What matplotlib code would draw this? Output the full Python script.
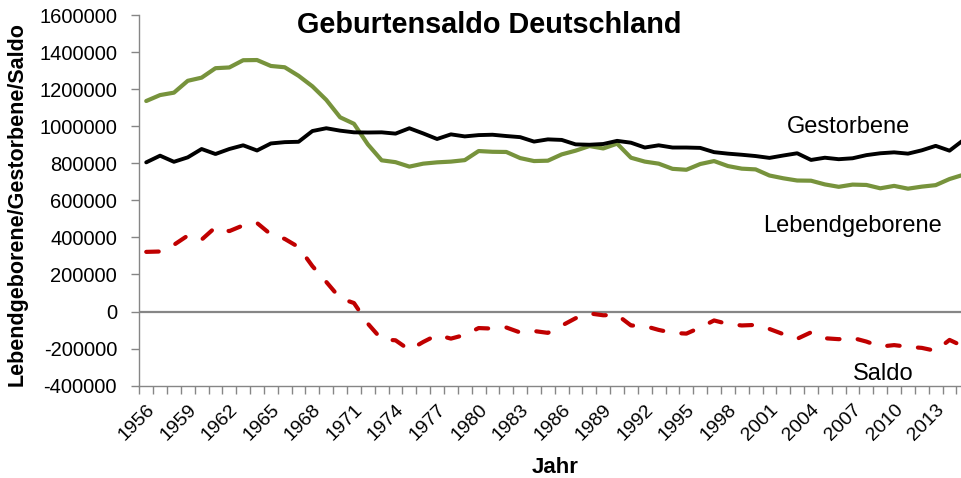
import numpy as np
import matplotlib
matplotlib.use("Agg")
import matplotlib.pyplot as plt

plt.rcParams['font.family'] = ['Liberation Sans', 'DejaVu Sans']

# --- Data (Deutschland, 1956-2015) ---

years = list(range(1956, 2016))

lebendgeborene = [
    1136000, 1168000, 1181000, 1245000, 1262000, 1313000, 1317000, 1356000,
    1357000, 1325000, 1318000, 1272000, 1215000, 1142000, 1048000, 1013000,
    902000, 816000, 806000, 782000, 798000, 805000, 809000, 817000,
    866000, 862000, 861000, 828000, 812000, 814000, 848000, 868000,
    893000, 880000, 906000, 830000, 809000, 798000, 770000, 765000,
    796000, 812000, 785000, 771000, 767000, 734000, 719000, 707000,
    706000, 686000, 673000, 685000, 683000, 665000, 678000, 663000,
    674000, 682000, 715000, 738000,
]

gestorbene = [
    805000, 841000, 808000, 832000, 877000, 850000, 877000, 897000,
    869000, 907000, 914000, 916000, 974000, 989000, 976000, 967000,
    966000, 967000, 960000, 989000, 961000, 931000, 956000, 945000,
    952000, 954000, 947000, 941000, 917000, 929000, 926000, 902000,
    900000, 904000, 921000, 911000, 885000, 897000, 885000, 885000,
    883000, 860000, 852000, 846000, 839000, 829000, 842000, 854000,
    818000, 830000, 822000, 827000, 844000, 854000, 859000, 852000,
    870000, 894000, 868000, 925000,
]

saldo = [
    322000, 324000, 360000, 410000, 388000, 455000, 434000, 465000,
    478000, 416000, 392000, 348000, 245000, 160000, 72000, 46000,
    -65000, -150000, -155000, -207000, -164000, -126000, -146000, -126000,
    -89000, -92000, -86000, -113000, -105000, -115000, -76000, -36000,
    -10000, -20000, -18000, -75000, -78000, -99000, -115000, -119000,
    -86000, -48000, -67000, -75000, -72000, -94000, -122000, -147000,
    -112000, -144000, -149000, -142000, -162000, -189000, -181000, -190000,
    -196000, -212000, -153000, -188000,
]

y_ticks = list(range(-400000, 1600001, 200000))
x_label_years = years[:-1:3]

# --- Figure ---

W, H = 961, 478
fig = plt.figure(figsize=(W / 100, H / 100), dpi=100)

ax_left, ax_right = 139.3, 970.3
ax_top, ax_bottom = 15.0, 385.7
ax = fig.add_axes([
    ax_left / W,
    1 - ax_bottom / H,
    (ax_right - ax_left) / W,
    (ax_bottom - ax_top) / H,
])

axis_gray = '#868686'

ax.axhline(0, color=axis_gray, lw=1.6, zorder=1)

ax.plot(years, lebendgeborene, color='#77933C', lw=3.0,
        solid_joinstyle='round', solid_capstyle='round', zorder=3)
ax.plot(years, gestorbene, color='black', lw=2.8,
        solid_joinstyle='round', solid_capstyle='round', zorder=4)
ax.plot(years, saldo, color='#C00000', lw=3.0, dashes=(3.0, 4.4),
        dash_capstyle='round', dash_joinstyle='round', zorder=3)

ax.set_xlim(1955.5, 2015.5)
ax.set_ylim(-400000, 1600000)

ax.set_yticks(y_ticks)
ax.set_yticklabels([str(v) for v in y_ticks], fontsize=14.5)
ax.tick_params(axis='y', direction='out', length=6, width=1,
               color=axis_gray, pad=10, labelcolor='black')

# tick marks between categories, labels at every third category
ax.set_xticks(np.arange(1955.5, 2016, 1.0))
ax.set_xticklabels([])
ax.tick_params(axis='x', which='major', direction='out', length=6,
               width=1, color=axis_gray)
ax.set_xticks(x_label_years, minor=True)
ax.set_xticklabels([str(y) for y in x_label_years], minor=True,
                   rotation=45, ha='right', va='top',
                   rotation_mode='anchor', fontsize=14)
ax.tick_params(axis='x', which='minor', length=0, pad=11)

for side in ('top', 'right'):
    ax.spines[side].set_visible(False)
for side in ('left', 'bottom'):
    ax.spines[side].set_color(axis_gray)
    ax.spines[side].set_linewidth(1.0)

# --- Texts ---

fig.text(489 / W, 1 - 33.3 / H, 'Geburtensaldo Deutschland',
         ha='center', va='baseline', fontsize=20.8, fontweight='bold')
fig.text(17.5 / W, 1 - 204 / H, 'Lebendgeborene/Gestorbene/Saldo',
         ha='center', va='center', rotation=90, fontsize=15.5,
         fontweight='bold')
fig.text(555 / W, 1 - 473 / H, 'Jahr', ha='center', va='baseline',
         fontsize=16, fontweight='bold')

fig.text(787 / W, 1 - 133 / H, 'Gestorbene', ha='left', va='baseline',
         fontsize=17)
fig.text(763 / W, 1 - 232 / H, 'Lebendgeborene', ha='left',
         va='baseline', fontsize=17)
fig.text(853 / W, 1 - 380 / H, 'Saldo', ha='left', va='baseline',
         fontsize=17)

fig.savefig('out.png', dpi=100)
